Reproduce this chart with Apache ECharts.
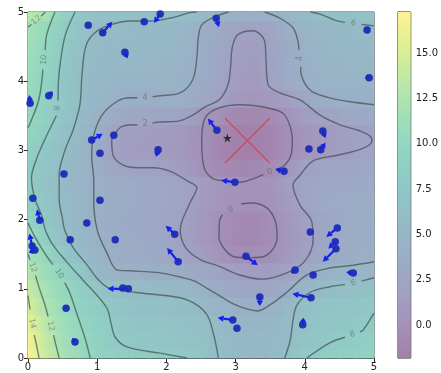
<!DOCTYPE html>
<html><head><meta charset="utf-8">
<script src="https://cdn.jsdelivr.net/npm/echarts@6/dist/echarts.min.js"></script>
<style>html,body{margin:0;padding:0;background:#fff}#c{width:441px;height:373px}</style>
</head><body><div id="c"></div>
<script>
// ---- field samples (rows: y = 0 .. 5, cols: x = 0 .. 5, step 0.25) ----
const fieldX = [0,0.25,0.5,0.75,1,1.25,1.5,1.75,2,2.25,2.5,2.75,3,3.25,3.5,3.75,4,4.25,4.5,4.75,5];
const fieldY = [0,0.25,0.5,0.75,1,1.25,1.5,1.75,2,2.25,2.5,2.75,3,3.25,3.5,3.75,4,4.25,4.5,4.75,5];
const fieldRows = [
  [17.2,14.2,11.9,10.6,9.7,8.9,8.3,8.2,8.1,8.0,7.1,6.0,5.5,5.3,5.5,6.2,7.9,8.4,8.8,9.2,9.5],
  [16.8,13.8,11.6,10.3,9.3,8.1,7.7,7.5,7.3,7.0,6.6,5.9,5.3,5.1,5.3,5.9,7.0,7.7,8.1,8.6,9.0],
  [16.0,13.2,11.3,10.0,8.8,7.9,7.3,7.0,6.9,6.7,6.3,5.6,4.9,4.6,4.8,5.7,6.7,7.2,7.6,7.9,8.3],
  [15.0,12.5,10.8,9.6,8.4,7.4,6.7,6.45,6.3,6.1,5.5,4.6,4.0,3.85,4.0,5.1,6.4,6.9,7.2,7.4,7.6],
  [14.0,11.9,10.3,8.8,7.4,6.2,5.8,5.7,5.5,5.1,4.4,3.5,2.9,2.55,2.7,3.5,4.8,5.7,6.2,6.4,6.6],
  [12.9,11.0,9.5,7.5,5.5,4.3,4.0,3.95,3.8,3.5,2.9,2.15,1.6,1.3,1.5,1.95,3.0,4.2,4.7,5.0,5.2],
  [12.0,10.0,7.8,5.9,4.6,3.8,3.45,3.2,2.9,2.4,1.6,0.5,-0.2,-0.3,-0.05,0.9,1.9,2.8,3.5,3.75,3.8],
  [11.0,8.5,6.7,5.3,4.2,3.6,3.3,3.0,2.5,1.95,1.0,0.05,-0.8,-0.9,-0.4,0.8,1.6,2.5,3.2,3.6,3.8],
  [9.7,7.7,6.0,4.9,3.95,3.55,3.25,2.9,2.5,2.0,1.0,0.05,-0.7,-0.8,-0.3,0.9,1.8,2.6,3.2,3.5,3.7],
  [8.6,7.3,5.9,4.8,3.95,3.6,3.3,3.0,2.6,2.2,1.2,0.5,0.1,0.0,0.3,1.2,2.4,3.0,3.3,3.45,3.5],
  [8.2,7.0,5.8,4.7,3.95,3.6,3.3,3.0,2.6,2.2,1.5,0.6,0.15,0.2,0.4,1.4,2.5,2.9,3.1,3.25,3.3],
  [8.3,7.1,5.9,4.6,3.7,2.6,2.05,2.0,1.8,1.3,0.2,-0.6,-1.0,-0.9,-0.5,0.4,1.9,2.3,2.5,2.7,2.8],
  [9.0,7.6,6.2,4.9,3.6,1.9,1.4,1.3,1.2,0.8,0.0,-1.0,-1.7,-1.8,-1.3,-0.3,0.6,1.1,1.5,2.0,2.3],
  [9.8,8.5,6.6,5.3,3.8,2.05,1.6,1.5,1.3,0.9,0.1,-0.9,-1.6,-1.75,-1.3,-0.3,0.5,1.0,1.5,1.85,2.1],
  [10.2,9.0,7.3,5.8,4.4,3.3,2.7,2.6,2.5,2.2,1.1,-0.1,-0.8,-0.9,-0.6,0.3,1.4,2.05,2.7,3.1,3.35],
  [10.5,9.3,7.5,6.0,5.0,4.2,3.95,3.95,3.9,3.7,2.9,2.05,0.9,0.6,1.0,1.7,2.6,3.6,4.05,4.1,4.15],
  [10.8,9.6,7.6,6.1,5.2,4.8,4.6,4.5,4.45,4.2,3.5,2.5,1.5,1.0,1.9,3.0,4.0,4.3,4.45,4.55,4.6],
  [11.0,9.8,7.8,6.2,5.5,5.2,5.1,5.0,4.8,4.4,3.6,2.7,1.7,1.2,2.2,3.3,4.1,4.5,4.8,4.9,5.0],
  [11.5,10.0,8.0,6.5,5.7,5.5,5.4,5.3,5.1,4.6,3.8,2.9,1.9,1.4,2.3,3.4,4.3,4.8,5.1,5.3,5.5],
  [11.8,10.4,8.5,7.0,5.9,5.7,5.6,5.6,5.5,4.9,3.95,3.2,2.3,2.1,2.7,3.7,4.6,5.1,5.5,5.8,5.9],
  [13.2,12.0,9.3,7.6,6.5,6.4,6.3,6.3,6.3,6.2,5.8,4.6,4.0,3.9,4.2,5.0,5.8,6.3,6.5,6.7,6.8]
];
const colorMin = -1.82, colorMax = 17.26;
const colorTicks = [0,2.5,5,7.5,10,12.5,15];

// ---- contour lines (data coordinates; '-' marks the gap left for a label) ----
const contour0a = [[3.40,2.655],[3.28,2.60],[3.06,2.54],[2.85,2.56],[2.66,2.60],[2.54,2.77],[2.51,3.14],[2.56,3.47],[2.75,3.61],[3.06,3.66],[3.38,3.63],[3.68,3.54],[3.79,3.34],[3.82,3.12],[3.79,2.90],[3.68,2.76],[3.60,2.73]];
const contour0b = [[3.08,2.225],[3.24,2.24],[3.45,2.17],[3.57,1.99],[3.60,1.75],[3.53,1.56],[3.38,1.46],[3.18,1.45],[2.99,1.46],[2.85,1.56],[2.76,1.75],[2.77,1.99],[2.81,2.07]];
const contour2 = [[1.80,3.395],[1.91,3.41],[2.15,3.42],[2.38,3.51],[2.56,3.63],[2.77,3.74],[2.89,3.95],[2.93,4.23],[2.95,4.48],[3.03,4.67],[3.25,4.73],[3.42,4.58],[3.44,4.29],[3.47,3.95],[3.64,3.83],[3.93,3.73],[4.22,3.51],[4.51,3.37],[4.80,3.28],[4.94,3.21],[4.97,3.14],[4.84,3.03],[4.47,2.93],[4.12,2.85],[3.93,2.64],[3.83,2.50],[3.93,2.21],[4.10,1.97],[4.12,1.71],[4.00,1.40],[3.74,1.23],[3.38,1.14],[3.06,1.20],[2.75,1.33],[2.49,1.42],[2.28,1.59],[2.20,1.85],[2.34,2.24],[2.44,2.46],[2.30,2.56],[2.05,2.70],[1.81,2.75],[1.58,2.75],[1.37,2.79],[1.23,2.93],[1.21,3.14],[1.26,3.25],[1.37,3.35],[1.58,3.37]];
const contour4a = [[2.90,5.00],[2.70,4.93],[2.51,4.81],[2.46,4.62],[2.44,4.34],[2.38,4.02],[2.20,3.83],[1.91,3.79],[1.80,3.775],'-',[1.58,3.76],[1.47,3.76],[1.29,3.71],[1.07,3.51],[0.95,3.22],[0.92,2.93],[0.95,2.57],[0.95,2.28],[1.00,1.85],[1.14,1.52],[1.29,1.27],[1.47,1.26],[1.91,1.23],[2.20,1.17],[2.41,1.11],[2.60,1.00],[2.80,0.88],[2.99,0.77],[3.16,0.71],[3.31,0.68],[3.50,0.77],[3.74,0.95],[4.03,1.20],[4.36,1.30],[4.70,1.34],[5.00,1.39]];
const contour4b = [[3.42,5.00],[3.64,4.91],[3.83,4.77],[3.90,4.58],[3.915,4.45],'-',[3.94,4.21],[3.95,4.09],[4.08,3.87],[4.32,3.77],[4.61,3.71],[5.00,3.66]];
const contour6a = [[2.44,5.00],[2.34,4.99],[2.05,4.91],[1.76,4.87],[1.47,4.87],[1.18,4.81],[0.98,4.71],[0.84,4.52],[0.78,4.09],[0.75,3.66],[0.65,3.29],[0.53,2.99],[0.45,2.64],[0.45,2.3],[0.5,2.0],[0.53,1.85],[0.65,1.6],[0.85,1.35],[1.0,1.15],[1.15,1.02],[1.35,0.98],[1.62,0.94],[2.2,0.87],[2.45,0.76],[2.6,0.6],[2.68,0.35],[2.73,0.12],[2.75,0.00]];
const contour6b = [[4.08,5.00],[4.22,4.97],[4.44,4.88],[4.58,4.85],'-',[4.82,4.82],[5.00,4.80]];
const contour6c = [[5.00,1.16],[4.82,1.11],'-',[4.58,1.06],[4.36,1.03],[4.08,0.95],[3.89,0.77],[3.83,0.55],[3.79,0.26],[3.71,0.00]];
const contour8a = [[0.68,5.0],[0.54,4.67],[0.47,4.29],[0.44,4.0],[0.435,3.72],'-',[0.41,3.50],[0.37,3.42],[0.23,3.13],[0.11,2.84],[0.05,2.6],[0.1,2.3],[0.2,2.05],[0.25,1.85],[0.35,1.65],[0.55,1.4],[0.8,1.12],[1.02,0.88],[1.15,0.7],[1.2,0.5],[1.26,0.30],[1.43,0.16],[1.91,0.07],[2.3,0.0]];
const contour8c = [[5.00,0.65],[4.84,0.40],[4.80,0.38],'-',[4.58,0.30],[4.36,0.22],[4.03,0.00]];
const contour10a = [[0.39,5.0],[0.27,4.67],[0.25,4.45],'-',[0.215,4.17],[0.20,4.0],[0.15,3.71],[0.03,3.39],[0,3.33]];
const contour10b = [[0,1.95],[0.1,1.75],[0.25,1.5],[0.36,1.35],'-',[0.53,1.09],[0.6,0.95],[0.72,0.6],[0.82,0.3],[0.9,0.0]];
const contour12a = [[0,4.78],[0.05,4.82],'-',[0.19,4.94],[0.25,5.0]];
const contour12b = [[0,1.5],[0.03,1.42],'-',[0.11,1.19],[0.15,1.05],[0.25,0.75],[0.29,0.6],'-',[0.37,0.33],[0.4,0.2],[0.45,0.0]];
const contour14b = [[0,0.9],[0.03,0.7],'-',[0.09,0.33],[0.12,0.2],[0.16,0.0]];
const contourLabelText = ['2','4','0','0','4','6','6','8','8','10','12','10','12','14','12'];
const contourLabelX = [1.69,1.69,3.50,2.93,3.93,4.70,4.70,4.69,0.425,0.23,0.12,0.45,0.07,0.06,0.33];
const contourLabelY = [3.38,3.76,2.69,2.15,4.33,4.835,1.085,0.34,3.61,4.31,4.88,1.22,1.31,0.5,0.46];
const contourLabelRot = [0,0,22,35,90,-8,11,20,83,84,41,-57,-72,-80,-75];

// ---- sample points and gradient arrows ----
const sampleX = [0.87,1.08,1.40,1.68,1.91,2.72,4.90,4.93,0.03,0.30,0.92,1.24,1.04,1.88,0.52,2.73,4.26,4.06,4.23,3.70,2.99,0.07,0.17,0.06,0.10,0.85,0.61,1.26,1.04,2.12,2.17,1.37,1.45,0.55,0.68,3.15,3.35,2.96,3.02,4.08,4.47,4.44,4.45,3.86,4.12,4.70,4.09,3.97];
const sampleY = [4.81,4.70,4.42,4.86,4.97,4.91,4.74,4.05,3.68,3.79,3.15,3.22,2.96,3.01,2.66,3.29,3.28,3.02,3.01,2.70,2.54,2.31,1.99,1.62,1.56,1.95,1.71,1.71,2.28,1.79,1.39,1.01,1.00,0.72,0.23,1.47,0.88,0.55,0.43,1.82,1.88,1.68,1.58,1.27,1.20,1.23,0.87,0.48];
const arrowDX = [0,0.14,0.04,0,-0.09,0.04,0,-0.06,-0.01,0.06,0.16,0,0,-0.03,-0.03,-0.13,0.04,0,0.07,-0.13,-0.2,0,-0.04,-0.04,-0.09,-0.01,0,0,0,-0.13,-0.16,0,-0.3,0,-0.04,0.17,0,-0.22,0,0,-0.16,-0.1,-0.19,-0.06,0,-0.1,-0.27,0.01];
const arrowDY = [0,0.16,-0.09,0,-0.13,-0.13,0,0,0.12,0.06,0.09,0,0,-0.1,0.04,0.17,-0.1,0,0.1,0.03,0.03,0,0.16,0.18,-0.04,0.04,0,0,0,0.12,0.2,0,0,0,0.06,-0.13,-0.13,0.03,0,0,-0.13,-0.1,-0.19,-0.04,0,0.01,0.06,0.1];
const bestPoint = [2.88,3.18];
const truePoint = [3.17,3.14];

// ---- colour map (viridis) ----
const VIR = ['#440154','#482475','#414487','#355f8d','#2a788e','#21918c','#22a884','#44bf70','#7ad151','#bddf26','#fde725'];
function hex(h){return [parseInt(h.substr(1,2),16),parseInt(h.substr(3,2),16),parseInt(h.substr(5,2),16)];}
const VIRRGB = VIR.map(hex);
const ALPHA = 0.5;
function cmap(t){
  t = Math.max(0,Math.min(1,t));
  const f = t*10, i = Math.min(9,Math.floor(f)), r = f-i;
  const a = VIRRGB[i], b = VIRRGB[i+1];
  const c = [0,1,2].map(k=>(a[k]+(b[k]-a[k])*r)*ALPHA+255*(1-ALPHA));
  return 'rgb('+c.map(v=>Math.round(v)).join(',')+')';
}
function valColor(v){return cmap((v-colorMin)/(colorMax-colorMin));}

// strips: one per row and pair of neighbouring columns
const stripData = [];
fieldRows.forEach((row,j)=>{ for(let i=0;i<row.length-1;i++) stripData.push([fieldX[i],fieldY[j],fieldX[i+1],row[i],row[i+1]]); });
const halfRow = 0.125;

const chart = echarts.init(document.getElementById('c'), null, {renderer:'canvas'});
const FONT = 'DejaVu Sans';
const lineColor = 'rgba(55,65,65,0.62)';
const contours = [contour0a,contour0b,contour2,contour4a,contour4b,contour6a,contour6b,contour6c,contour8a,contour8c,contour10a,contour10b,contour12a,contour12b,contour14b];

const series = [];
series.push({
  type:'custom', xAxisIndex:0, yAxisIndex:0, z:1, silent:true,
  data: stripData,
  renderItem(params, api){
    const xa=api.value(0), y=api.value(1), xb=api.value(2), va=api.value(3), vb=api.value(4);
    const y0=Math.max(0,y-halfRow), y1=Math.min(5,y+halfRow);
    const p0=api.coord([xa,y1]), p1=api.coord([xb,y0]);
    return {type:'rect', shape:{x:p0[0]-0.4,y:p0[1]-0.5,width:p1[0]-p0[0]+0.8,height:p1[1]-p0[1]+1},
      style:{fill:new echarts.graphic.LinearGradient(0,0,1,0,[{offset:0,color:valColor(va)},{offset:1,color:valColor(vb)}])}};
  }
});
contours.forEach(c=>series.push({type:'line', xAxisIndex:0, yAxisIndex:0, data:c, showSymbol:false, smooth:0.35, connectNulls:false, silent:true, z:3, lineStyle:{color:lineColor,width:1.4}}));
series.push({
  type:'scatter', xAxisIndex:0, yAxisIndex:0, z:4, silent:true, symbolSize:1, itemStyle:{color:'rgba(0,0,0,0)'},
  data: contourLabelText.map((t,i)=>({value:[contourLabelX[i],contourLabelY[i]], label:{show:true, formatter:t, position:'inside', rotate:contourLabelRot[i], color:'rgba(90,100,100,0.75)', fontSize:8, fontFamily:FONT}}))
});
series.push({
  type:'custom', xAxisIndex:0, yAxisIndex:0, z:6, silent:true,
  data: sampleX.map((x,i)=>[x,sampleY[i],arrowDX[i],arrowDY[i]]),
  renderItem(params, api){
    const x=api.value(0), y=api.value(1), dx=api.value(2), dy=api.value(3);
    if (!dx && !dy) return null;
    const p0=api.coord([x,y]), p1=api.coord([x+dx,y+dy]);
    const ang=Math.atan2(p1[1]-p0[1], p1[0]-p0[0]);
    const L=Math.hypot(p1[0]-p0[0],p1[1]-p0[1]);
    const hl=Math.min(6,L*0.6), hw=3.2;
    const bx=p1[0]-hl*Math.cos(ang), by=p1[1]-hl*Math.sin(ang);
    const s=Math.sin(ang), c=Math.cos(ang);
    return {type:'group', children:[
      {type:'line', shape:{x1:p0[0],y1:p0[1],x2:bx,y2:by}, style:{stroke:'#1420ee', lineWidth:2.2}},
      {type:'polygon', shape:{points:[[p1[0],p1[1]],[bx+hw*s,by-hw*c],[bx-hw*s,by+hw*c]]}, style:{fill:'#1420ee'}}
    ]};
  }
});
series.push({type:'scatter', xAxisIndex:0, yAxisIndex:0, z:7, silent:true, symbolSize:7.5, itemStyle:{color:'#1c2bb8', opacity:0.95}, data: sampleX.map((x,i)=>[x,sampleY[i]])});
series.push({
  type:'custom', xAxisIndex:0, yAxisIndex:0, z:8, silent:true, data:[truePoint],
  renderItem(params, api){
    const x=api.value(0), y=api.value(1), h=0.325;
    const a=api.coord([x-h,y+h]), b=api.coord([x+h,y-h]), c=api.coord([x-h,y-h]), d=api.coord([x+h,y+h]);
    return {type:'group', children:[
      {type:'line', shape:{x1:a[0],y1:a[1],x2:b[0],y2:b[1]}, style:{stroke:'#e8393a', lineWidth:1.1}},
      {type:'line', shape:{x1:c[0],y1:c[1],x2:d[0],y2:d[1]}, style:{stroke:'#e8393a', lineWidth:1.1}}
    ]};
  }
});
series.push({type:'scatter', xAxisIndex:0, yAxisIndex:0, z:9, silent:true, symbol:'path://M50,0 L61,35 L98,35 L68,57 L79,91 L50,70 L21,91 L32,57 L2,35 L39,35 Z', symbolSize:9, itemStyle:{color:'#111'}, data:[bestPoint]});
// colour bar
series.push({
  type:'custom', xAxisIndex:1, yAxisIndex:1, z:2, silent:true, data:[[0,colorMin,colorMax]],
  renderItem(params, api){
    const a=api.coord([0,api.value(2)]), b=api.coord([1,api.value(1)]);
    const stops=[]; for(let k=0;k<=20;k++){stops.push({offset:k/20,color:cmap(k/20)});}
    return {type:'rect', shape:{x:a[0],y:a[1],width:b[0]-a[0],height:b[1]-a[1]}, style:{fill:new echarts.graphic.LinearGradient(0,1,0,0,stops)}};
  }
});

const axisCommon = {axisLine:{show:true,onZero:false,lineStyle:{color:'#222',width:1}}, axisTick:{show:true,inside:false,length:4,lineStyle:{color:'#222'}}, axisLabel:{color:'#222',fontSize:10,fontFamily:FONT,margin:4}, splitLine:{show:false}};
chart.setOption({
  animation:false,
  backgroundColor:'#fff',
  grid:[{left:28,top:12,width:346,height:346,show:true,borderColor:'#222',borderWidth:1,backgroundColor:'transparent'},
        {left:398,top:12,width:17,height:346,show:true,borderColor:'#222',borderWidth:1,backgroundColor:'transparent'}],
  xAxis:[Object.assign({type:'value',gridIndex:0,min:0,max:5,interval:1},axisCommon),
         {type:'value',gridIndex:1,min:0,max:1,show:false}],
  yAxis:[Object.assign({type:'value',gridIndex:0,min:0,max:5,interval:1},axisCommon),
         {type:'value',gridIndex:1,min:colorMin,max:colorMax,position:'right',
          axisLine:{show:true,lineStyle:{color:'#222'}}, splitLine:{show:false},
          axisTick:{show:true,length:4,customValues:colorTicks,lineStyle:{color:'#222'}},
          axisLabel:{color:'#222',fontSize:10,fontFamily:FONT,margin:5,customValues:colorTicks,formatter:v=>v.toFixed(1)}}],
  series
});
</script></body></html>
